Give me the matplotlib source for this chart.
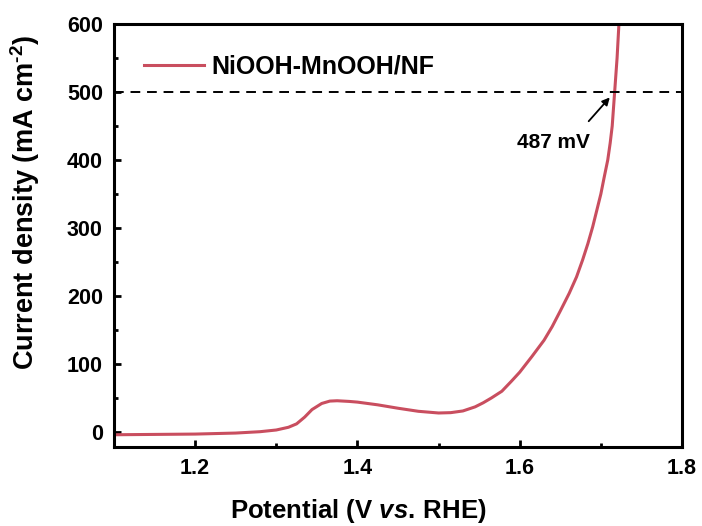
import matplotlib.pyplot as plt
from matplotlib.ticker import MultipleLocator

plt.rcParams['font.family'] = ['Liberation Sans', 'DejaVu Sans']
plt.rcParams['font.weight'] = 'bold'
plt.rcParams['mathtext.fontset'] = 'custom'
plt.rcParams['mathtext.rm'] = 'Liberation Sans:bold'
plt.rcParams['mathtext.bf'] = 'Liberation Sans:bold'
plt.rcParams['mathtext.it'] = 'Liberation Sans:italic:bold'

# LSV polarisation curve (potential in V vs. RHE, current density in mA cm^-2)
potential = [1.100, 1.150, 1.200, 1.250, 1.280, 1.300, 1.315, 1.325, 1.335,
             1.344, 1.356, 1.366, 1.375, 1.390, 1.400, 1.425, 1.450, 1.475,
             1.500, 1.515, 1.530, 1.545, 1.555, 1.565, 1.578, 1.590, 1.600,
             1.615, 1.630, 1.640, 1.650, 1.661, 1.670, 1.6775, 1.684, 1.690,
             1.695, 1.700, 1.704, 1.7085, 1.7115, 1.714, 1.7155, 1.717,
             1.7185, 1.720, 1.7225]
current = [-4.0, -3.5, -3.0, -1.5, 0.5, 3.0, 7.0, 12.0, 22.0,
           33.0, 42.0, 45.5, 46.0, 45.0, 44.0, 40.0, 35.0, 30.5,
           28.0, 28.5, 31.0, 37.0, 43.0, 50.0, 60.0, 75.0, 88.0,
           111.0, 135.0, 155.0, 178.0, 204.0, 228.0, 253.0, 277.0, 302.0,
           326.0, 350.0, 374.0, 400.0, 425.0, 450.0, 475.0, 500.0,
           525.0, 550.0, 605.0]
sample = 'NiOOH-MnOOH/NF'
j_ref = 500
eta_label = '487 mV'

fig = plt.figure(figsize=(7.02, 5.26), dpi=100)
ax = fig.add_axes([0.1624, 0.1502, 0.8091, 0.8042])

ax.plot(potential, current, color='#C94E5F', linewidth=2.2, label=sample)
ax.axhline(j_ref, color='black', linestyle=(0, (5, 3.5)), linewidth=1.4)

# overpotential marker at 500 mA cm^-2
ax.annotate('', xy=(1.711, 492), xytext=(1.685, 457),
            arrowprops=dict(arrowstyle='-|>', color='black', lw=1.3,
                            mutation_scale=11, shrinkA=0, shrinkB=0))
ax.text(1.641, 425, eta_label, fontsize=15, fontweight='bold',
        ha='center', va='center')

ax.set_xlim(1.1, 1.8)
ax.set_ylim(-22, 600)
ax.set_xticks([1.2, 1.4, 1.6, 1.8])
ax.xaxis.set_minor_locator(MultipleLocator(0.1))
ax.yaxis.set_major_locator(MultipleLocator(100))
ax.yaxis.set_minor_locator(MultipleLocator(50))

ax.tick_params(which='both', direction='in', width=2, labelsize=15.5)
ax.tick_params(which='major', length=5, pad=8)
ax.tick_params(which='minor', length=3)
for sp in ax.spines.values():
    sp.set_linewidth(2.2)

ax.set_xlabel('Potential (V $\\mathit{vs.}\\,$RHE)', fontsize=18.5, fontweight='bold')
ax.set_ylabel('Current density (mA cm$^{\\text{-2}}$)', fontsize=19.5, fontweight='bold')
ax.xaxis.set_label_coords(0.43, -0.118)
ax.yaxis.set_label_coords(-0.127, 0.579)

ax.legend(loc='upper left', frameon=False, fontsize=18, handlelength=2.4,
          handletextpad=0.3, borderaxespad=0.8, bbox_to_anchor=(0.0, 0.998))

fig.savefig('out.png', dpi=100)
